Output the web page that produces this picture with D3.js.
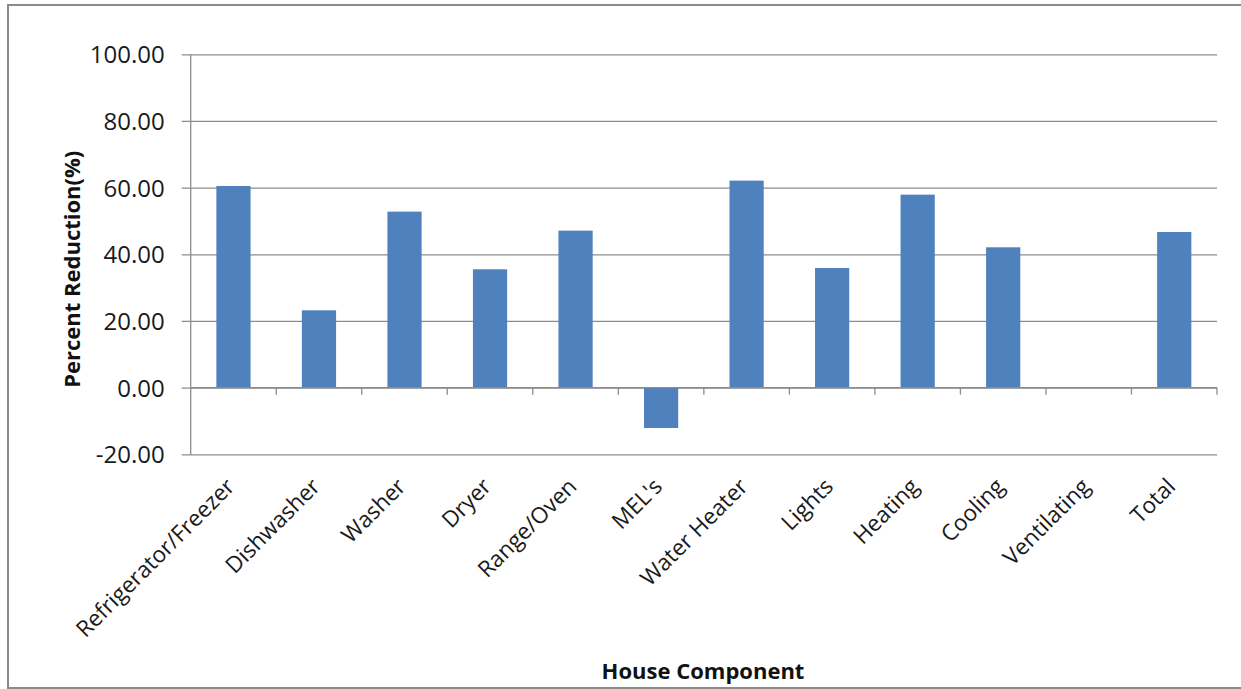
<!DOCTYPE html>
<html>
<head>
<meta charset="utf-8">
<script src="https://cdn.jsdelivr.net/npm/d3@7"></script>
<style>
  body { margin: 0; background: #fff; }
  svg { display: block; font-family: "Open Sans", sans-serif; }
</style>
</head>
<body>
<div id="container"></div>
<script>
// data
const categories = ["Refrigerator/Freezer", "Dishwasher", "Washer", "Dryer", "Range/Oven", "MEL's",
    "Water Heater", "Lights", "Heating", "Cooling", "Ventilating", "Total"];
const reduction = [60.5, 23.2, 52.8, 35.5, 47.1, -12.1, 62.1, 35.9, 57.9, 42.1, 0, 46.7];
const yTicks = [-20, 0, 20, 40, 60, 80, 100];

const w = 1241, h = 689;
const plotLeft = 190.7, plotRight = 1217, plotTop = 54.3, plotBottom = 454.3;

let viz = d3.select("#container")
    .append("svg")
    .attr("width", w)
    .attr("height", h);

// chart border
viz.append("rect")
    .attr("x", 8).attr("y", 5)
    .attr("width", w - 8 + 5).attr("height", h - 5 - 1)
    .attr("fill", "none")
    .attr("stroke", "#8a8a8a")
    .attr("stroke-width", 2);

let xScale = d3.scaleBand()
    .domain(categories)
    .range([plotLeft, plotRight])
    .paddingInner(0).paddingOuter(0);

let yScale = d3.scaleLinear()
    .domain([-20, 100])
    .range([plotBottom, plotTop]);

// gridlines + y axis
let yAxis = d3.axisLeft(yScale)
    .tickValues(yTicks)
    .tickSize(-(plotRight - plotLeft))
    .tickPadding(26)
    .tickFormat(d => d.toFixed(2)); // plain hyphen like the original
let yAxisGroup = viz.append("g")
    .attr("transform", `translate(${plotLeft},0)`)
    .call(yAxis);
yAxisGroup.select(".domain").remove();
yAxisGroup.selectAll(".tick line")
    .attr("x1", -9)
    .attr("stroke", "#8c8c8c")
    .attr("stroke-width", 1.3);
yAxisGroup.selectAll(".tick text")
    .attr("font-size", 24)
    .attr("font-family", "Open Sans")
    .attr("fill", "#1a1a1a")
    .attr("dy", "0.36em");

// vertical axis line
viz.append("line")
    .attr("x1", plotLeft).attr("x2", plotLeft)
    .attr("y1", plotTop).attr("y2", plotBottom)
    .attr("stroke", "#8c8c8c")
    .attr("stroke-width", 1.3);

// bars
const barW = xScale.bandwidth() * 0.4;
viz.append("g").selectAll("rect")
    .data(categories)
    .join("rect")
    .attr("x", (d, i) => xScale(d) + (xScale.bandwidth() - barW) / 2)
    .attr("y", (d, i) => yScale(Math.max(0, reduction[i])))
    .attr("width", barW)
    .attr("height", (d, i) => Math.abs(yScale(reduction[i]) - yScale(0)))
    .attr("fill", "#4f81bd");

// x axis at zero, ticks between categories
let xAxisGroup = viz.append("g").attr("transform", `translate(0,${yScale(0)})`);
xAxisGroup.append("line")
    .attr("x1", plotLeft).attr("x2", plotRight)
    .attr("stroke", "#8c8c8c").attr("stroke-width", 1.3);
xAxisGroup.selectAll(".xtick")
    .data(categories)
    .join("line")
    .attr("x1", d => xScale(d) + xScale.bandwidth())
    .attr("x2", d => xScale(d) + xScale.bandwidth())
    .attr("y1", 0).attr("y2", 7)
    .attr("stroke", "#8c8c8c").attr("stroke-width", 1.3);

// category labels, rotated, below the plot
viz.append("g").selectAll("text")
    .data(categories)
    .join("text")
    .attr("transform", d => `translate(${xScale(d) + xScale.bandwidth() / 2 - 3},${plotBottom + 28}) rotate(-45)`)
    .attr("text-anchor", "end")
    .attr("dy", "0.35em")
    .attr("font-size", 22.5)
    .attr("fill", "#1a1a1a")
    .text(d => d);

// axis titles
viz.append("text")
    .attr("transform", `translate(80,${(plotTop + plotBottom) / 2 + 15}) rotate(-90)`)
    .attr("text-anchor", "middle")
    .attr("font-size", 22)
    .attr("font-weight", "bold")
    .attr("fill", "#111")
    .text("Percent Reduction(%)");

viz.append("text")
    .attr("x", 703)
    .attr("y", 679)
    .attr("text-anchor", "middle")
    .attr("font-size", 22)
    .attr("font-weight", "bold")
    .attr("fill", "#111")
    .text("House Component");
</script>
</body>
</html>
